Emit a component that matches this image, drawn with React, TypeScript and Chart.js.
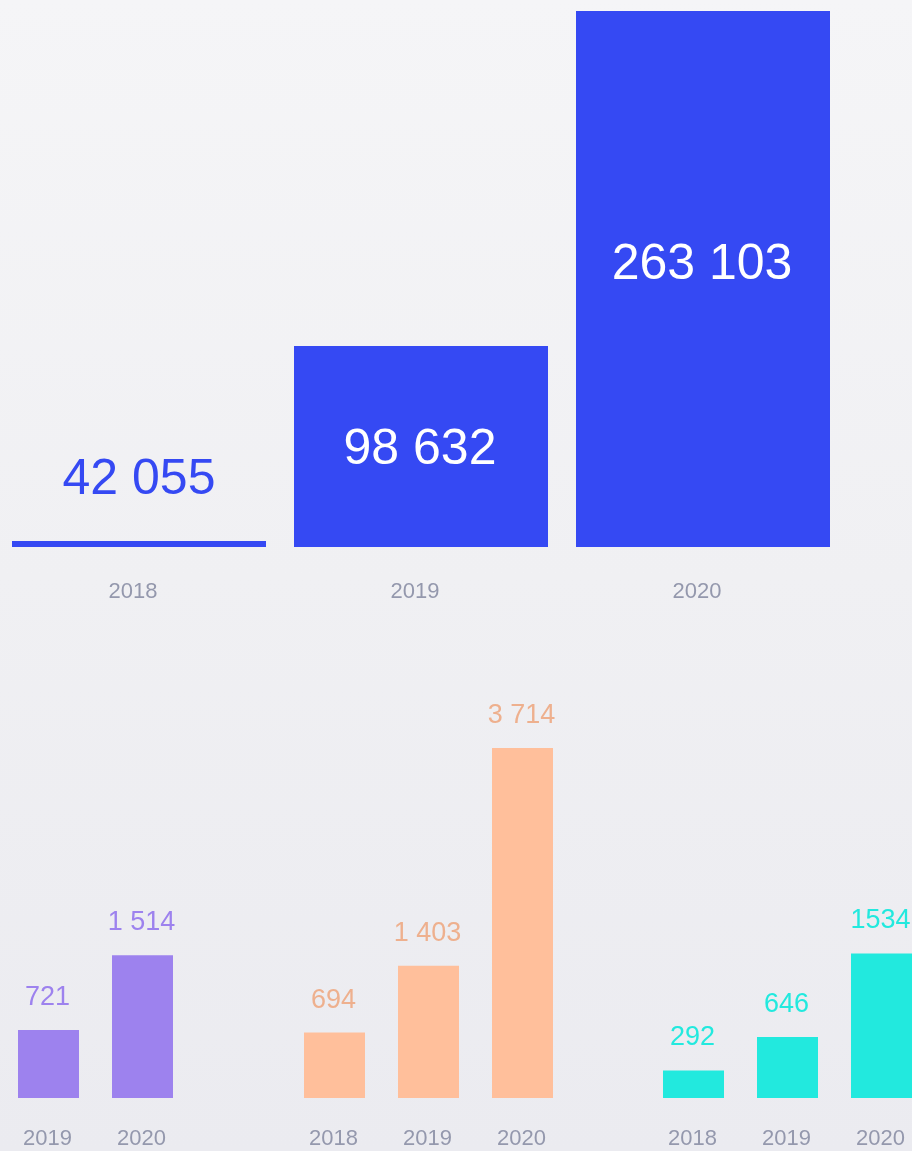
import React, { useEffect, useRef } from "react";
import { Chart, registerables } from "chart.js";

Chart.register(...registerables);

const FONT = "'Liberation Sans', Arial, Helvetica, sans-serif";

// Top chart
const topYears = ["2018", "2019", "2020"];
const topBarValues = [2950, 98632, 263103];
const topValueLabels = ["42 055", "98 632", "263 103"];
const topAxisMax = 263103;

// Bottom charts
const purpleYears = ["2019", "2020"];
const purpleValues = [721, 1514];
const purpleLabels = ["721", "1 514"];

const peachYears = ["2018", "2019", "2020"];
const peachValues = [694, 1403, 3714];
const peachLabels = ["694", "1 403", "3 714"];

const cyanYears = ["2018", "2019", "2020"];
const cyanValues = [292, 646, 1534];
const cyanLabels = ["292", "646", "1534"];

const bottomAxisMax = 4000;

const BLUE = "#3549f3";
const PURPLE = "#9d82ee";
const PEACH = "#ffbf9b";
const PEACH_TEXT = "#eeb08e";
const CYAN = "#22e9de";
const YEAR_COLOR = "#9498ad";

const valueLabelPlugin = {
  id: "valueLabels",
  afterDatasetsDraw(chart: any, _args: any, opts: any) {
    const { ctx } = chart;
    const meta = chart.getDatasetMeta(0);
    ctx.save();
    ctx.textAlign = "center";
    ctx.textBaseline = "alphabetic";
    meta.data.forEach((bar: any, i: number) => {
      const { x, y, base } = bar.getProps(["x", "y", "base"], true);
      const text = opts.texts[i];
      ctx.font = `${opts.fontSize}px ${FONT}`;
      if (opts.mode === "top") {
        const h = base - y;
        if (h < 80) {
          ctx.fillStyle = opts.color;
          ctx.fillText(text, x, y - 47);
        } else {
          ctx.fillStyle = "#ffffff";
          const c = y + Math.min(h / 2, 250);
          ctx.fillText(text, x - 1, c + 17.5);
        }
      } else {
        ctx.fillStyle = opts.color;
        ctx.fillText(text, x - 1, y - 25);
      }
    });
    ctx.restore();
  },
};

type Props = {
  years: string[];
  values: number[];
  texts: string[];
  color: string;
  textColor: string;
  mode: "top" | "bottom";
  left: number;
  top: number;
  width: number;
  height: number;
  padding: { top: number; left: number; right: number; bottom: number };
  yMax: number;
  barPct: number;
  axisHeight: number;
  tickPadding: number;
  labelOffset: number;
  fontSize: number;
};

function BarChart(p: Props) {
  const ref = useRef<HTMLCanvasElement | null>(null);
  useEffect(() => {
    if (!ref.current) return;
    const chart = new Chart(ref.current, {
      type: "bar",
      data: {
        labels: p.years,
        datasets: [
          {
            data: p.values,
            backgroundColor: p.color,
            borderWidth: 0,
            barPercentage: 1,
            categoryPercentage: p.barPct,
          },
        ],
      },
      options: {
        animation: false,
        responsive: false,
        maintainAspectRatio: false,
        layout: { padding: p.padding },
        plugins: {
          legend: { display: false },
          tooltip: { enabled: false },
          valueLabels: {
            texts: p.texts,
            mode: p.mode,
            color: p.textColor,
            fontSize: p.fontSize,
          },
        } as any,
        scales: {
          x: {
            grid: { display: false, drawTicks: false },
            border: { display: false },
            ticks: {
              color: YEAR_COLOR,
              font: { family: FONT, size: 22 },
              padding: p.tickPadding,
              labelOffset: p.labelOffset,
              maxRotation: 0,
            },
            afterFit: (s: any) => {
              s.height = p.axisHeight;
              s.paddingLeft = 0;
              s.paddingRight = 0;
            },
          },
          y: { display: false, min: 0, max: p.yMax },
        },
      },
      plugins: [valueLabelPlugin as any],
    });
    return () => chart.destroy();
  }, []);
  return (
    <canvas
      ref={ref}
      width={p.width}
      height={p.height}
      style={{
        position: "absolute",
        left: p.left,
        top: p.top,
        width: p.width,
        height: p.height,
      }}
    />
  );
}

export default function App() {
  const bottomCommon = {
    mode: "bottom" as const,
    top: 680,
    height: 471,
    yMax: bottomAxisMax,
    barPct: 61 / 94,
    axisHeight: 53,
    tickPadding: 28,
    labelOffset: -1,
    fontSize: 27,
  };
  return (
    <div
      style={{
        position: "absolute",
        left: 0,
        top: 0,
        width: 912,
        height: 1151,
        overflow: "hidden",
        background: "linear-gradient(180deg, #f5f5f7 0%, #f0f0f3 50%, #ebebf0 100%)",
        fontFamily: FONT,
      }}
    >
      <BarChart
        years={topYears}
        values={topBarValues}
        texts={topValueLabels}
        color={BLUE}
        textColor={BLUE}
        mode="top"
        left={-2}
        top={0}
        width={846}
        height={620}
        padding={{ top: 11, left: 0, right: 0, bottom: 0 }}
        yMax={topAxisMax}
        barPct={254 / 282}
        axisHeight={73}
        tickPadding={32}
        labelOffset={-6}
        fontSize={50}
      />
      <BarChart
        {...bottomCommon}
        years={purpleYears}
        values={purpleValues}
        texts={purpleLabels}
        color={PURPLE}
        textColor={PURPLE}
        left={0}
        width={200}
        padding={{ top: 41, left: 1.5, right: 10.5, bottom: 0 }}
      />
      <BarChart
        {...bottomCommon}
        years={peachYears}
        values={peachValues}
        texts={peachLabels}
        color={PEACH}
        textColor={PEACH_TEXT}
        left={280}
        width={300}
        padding={{ top: 41, left: 7.5, right: 10.5, bottom: 0 }}
      />
      <BarChart
        {...bottomCommon}
        years={cyanYears}
        values={cyanValues}
        texts={cyanLabels}
        color={CYAN}
        textColor={CYAN}
        left={640}
        width={290}
        padding={{ top: 41, left: 6.5, right: 1.5, bottom: 0 }}
      />
    </div>
  );
}
